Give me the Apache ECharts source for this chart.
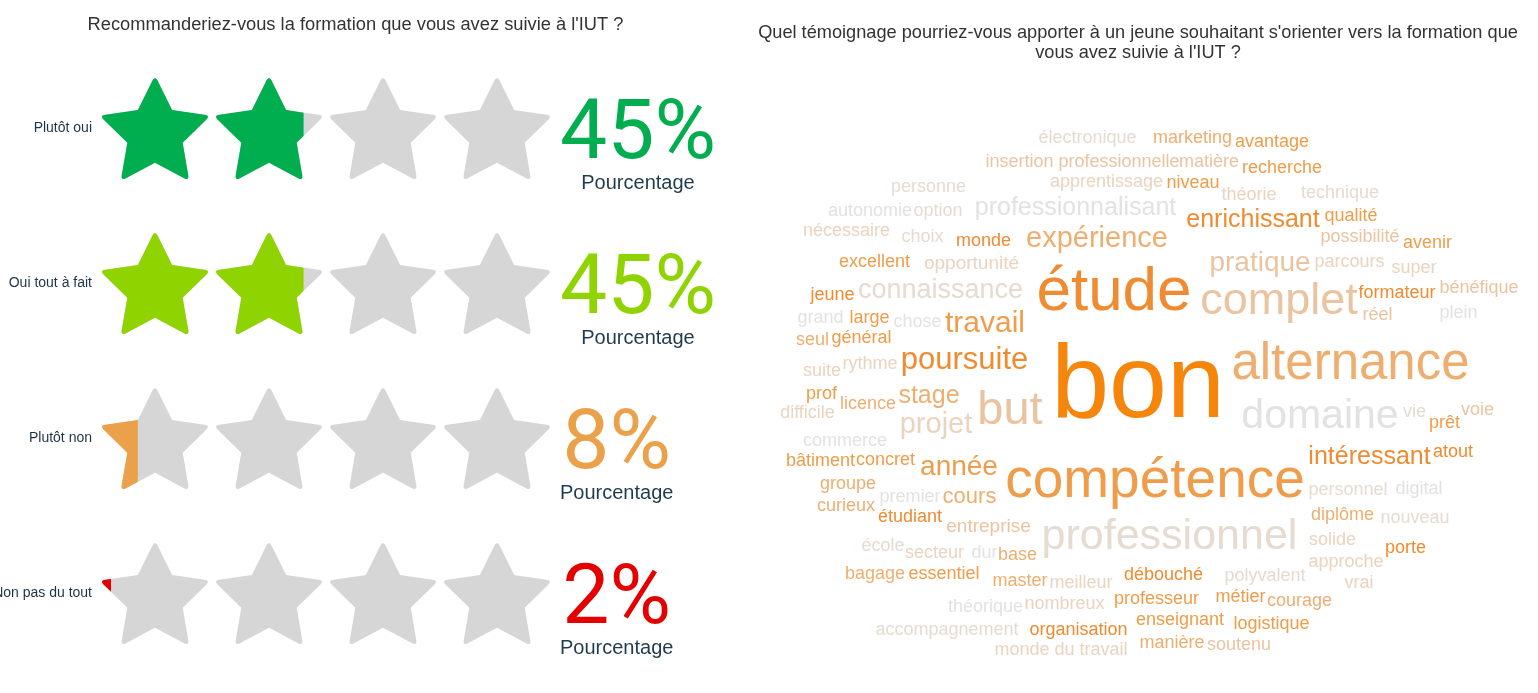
<!DOCTYPE html>
<html><head><meta charset="utf-8">
<script src="https://cdn.jsdelivr.net/npm/echarts@6/dist/echarts.min.js"></script>
<style>html,body{margin:0;padding:0;background:#fff}#c{width:1538px;height:693px}</style>
</head><body><div id="c"></div>
<script>
// ---------- data: rating panel ----------
const ratingTitle = "Recommanderiez-vous la formation que vous avez suivie à l'IUT ?";
const ratingCategories = ['Plutôt oui', 'Oui tout à fait', 'Plutôt non', 'Non pas du tout'];
const ratingPercents = [45, 45, 8, 2];
const ratingMax = 100;
const starsPerRow = 4;
const percentCaption = 'Pourcentage';

// ---------- data: word cloud panel ----------
const cloudTitle = "Quel témoignage pourriez-vous apporter à un jeune souhaitant s'orienter vers la formation que\nvous avez suivie à l'IUT ?";
const cloudWords = ['électronique','marketing','avantage','insertion professionnelle','matière','recherche','personne','apprentissage','niveau','théorie',
'technique','autonomie','option','professionnalisant','enrichissant','qualité','nécessaire','choix','monde','expérience',
'possibilité','avenir','excellent','opportunité','pratique','parcours','super','jeune','connaissance','étude',
'complet','formateur','bénéfique','réel','plein','grand','large','chose','travail','seul',
'général','suite','rythme','poursuite','bon','alternance','prof','licence','stage','difficile',
'but','projet','domaine','vie','prêt','voie','commerce','bâtiment','concret','année',
'compétence','intéressant','atout','groupe','premier','cours','personnel','digital','curieux','étudiant',
'diplôme','nouveau','entreprise','professionnel','solide','porte','école','secteur','dur','base',
'approche','bagage','essentiel','master','meilleur','débouché','polyvalent','vrai','professeur','métier',
'courage','théorique','nombreux','enseignant','logistique','accompagnement','organisation','monde du travail','manière','soutenu'];
const cloudWeights = [1,1,1,1,1,1,1,1,1,1,
1,1,1,8,8,1,1,1,1,12,
1,1,1,2,11,1,1,1,10,45,
28,1,1,1,1,1,1,1,13,1,
1,1,1,14,87,34,1,1,8,1,
30,12,24,1,1,1,1,1,1,11,
38,8,1,1,1,5,1,1,1,1,
1,1,2,26,1,1,1,1,1,1,
1,1,1,1,1,1,1,1,1,1,
1,1,1,1,1,1,1,1,1,1];
// layout of the cloud (word centres, in the panel's own layout units)
const cloudLayoutX = [1087.5,1192.5,1272,1082.5,1209,1282,928.5,1106.5,1193,1249,
1340,870,938,1075.5,1253,1351,846.5,922.5,983.5,1097,
1360,1427.5,874.5,971.5,1260,1349.5,1414,832.5,940.5,1114,
1279,1397,1479,1377.5,1458.5,820.5,869.5,917.5,985,812.5,
861.5,822,870,964.5,1138,1350.5,821.5,868,929,807.5,
1010,936,1320,1414.5,1444.5,1477.5,845,820.5,885.5,959,
1155,1369.5,1453,848,910,969.5,1348,1419,846,910,
1342.5,1415,988.5,1169.5,1332.5,1405.5,883,934.5,984.5,1017.5,
1346,875,944,1020,1081,1163.5,1265,1359,1156.5,1240.5,
1299.5,985.5,1064.5,1180,1271.5,947,1078.5,1061,1172,1239];
const cloudLayoutY = [138,138,142,162,162,168,187,182,183,195,
193,211,211,208,220,216,231,237,241,239,
237,243,262,264,263,262,268,295,291,292.5,
302,293,288,315,313,318,318,322,323.5,340,
338,371,364,360,388,365,394,404,396,413,
411,425,417,412,423,410,441,461,460,467,
481.5,457,452,484,497,497,490,489,506,517,
515,518,527,537.5,540,548,546,553,553,555,
562,574,574,581,583,575,576,583,599,597,
601,607,604,620,624,630,630,650,643,645];
const cloudTones = [6,3,2,4,4,2,6,5,2,5,
6,7,6,7,1,2,5,6,1,3,
4,2,2,5,4,5,5,1,6,1,
4,1,4,4,7,7,2,7,2,3,
2,5,5,1,0,3,2,3,3,5,
4,5,7,6,2,4,7,2,2,2,
2,1,1,3,7,3,6,7,3,1,
3,6,4,6,5,1,6,5,7,3,
5,3,2,3,5,1,6,5,2,2,
3,7,5,2,2,6,1,5,3,4];

// ---------- styles ----------
const rowColors = ['#00AE50', '#8FD400', '#EBA04A', '#E50000'];
const starGray = '#D6D6D6';
const tonePalette = ['#F5860B','#EF8B30','#EF9D4A','#EEAE70','#EAC4A0','#E9D4C0','#E5DBD1','#E2E2E2'];
const FONT = 'Liberation Sans, Arial, sans-serif';

function starPath(inner, round) {
  const pts = [];
  for (let i = 0; i < 10; i++) {
    const r = i % 2 === 0 ? 100 : 100 * inner;
    const a = -Math.PI / 2 + i * Math.PI / 5;
    pts.push([100 + r * Math.cos(a), 100 + r * Math.sin(a)]);
  }
  const f = v => v.toFixed(2);
  let d = '';
  for (let i = 0; i < 10; i += 2) {
    const P = pts[i], Ip = pts[(i + 9) % 10], In = pts[i + 1];
    const A = [P[0] + (Ip[0] - P[0]) * round, P[1] + (Ip[1] - P[1]) * round];
    const B = [P[0] + (In[0] - P[0]) * round, P[1] + (In[1] - P[1]) * round];
    d += (i === 0 ? 'M' : 'L') + f(A[0]) + ' ' + f(A[1]) + 'Q' + f(P[0]) + ' ' + f(P[1]) + ' ' + f(B[0]) + ' ' + f(B[1]) +
         'L' + f(In[0]) + ' ' + f(In[1]);
  }
  return 'path://' + d + 'Z';
}
const STAR = starPath(0.5, 0.15);
const STAR_SIZE = [106, 101];

const wMin = Math.min(...cloudWeights), wMax = Math.max(...cloudWeights);
const SIZE_MIN = 18, SIZE_MAX = 104;
const sizeOf = w => SIZE_MIN + (w - wMin) * (SIZE_MAX - SIZE_MIN) / (wMax - wMin);

const rich = {
  s: { fontSize: 20, fontFamily: FONT, color: '#1f3b4d', lineHeight: 24, align: 'center' }
};
rowColors.forEach((c, i) => {
  rich['p' + i] = { fontSize: 84, fontFamily: 'Roboto, sans-serif', color: c, lineHeight: 70, align: 'center' };
});

const chart = echarts.init(document.getElementById('c'), null, { renderer: 'canvas' });
chart.setOption({
  animation: false,
  backgroundColor: '#ffffff',
  title: [
    { text: ratingTitle, left: 355.5, top: 16, textAlign: 'center', padding: 0,
      textStyle: { fontSize: 18.3, fontWeight: 'normal', color: '#333', fontFamily: FONT } },
    { text: cloudTitle, left: 1138, top: 23, textAlign: 'center', padding: 0,
      textStyle: { fontSize: 18.2, fontWeight: 'normal', color: '#333', fontFamily: FONT, lineHeight: 20 } }
  ],
  grid: [
    { left: 102, top: 51, width: 448, height: 620, outerBoundsMode: 'none', containLabel: false },
    { left: 740, top: 0, width: 798, height: 693, outerBoundsMode: 'none', containLabel: false }
  ],
  xAxis: [
    { gridIndex: 0, type: 'value', min: 0, max: ratingMax, show: false },
    { gridIndex: 1, type: 'value', min: 740, max: 1538, show: false }
  ],
  yAxis: [
    { gridIndex: 0, type: 'category', inverse: true, data: ratingCategories,
      axisLine: { show: false }, axisTick: { show: false }, splitLine: { show: false },
      axisLabel: { margin: 10, fontSize: 14, color: '#1d3447', fontFamily: FONT } },
    { gridIndex: 1, type: 'value', min: 0, max: 693, inverse: true, show: false }
  ],
  series: [
    {
      type: 'pictorialBar', xAxisIndex: 0, yAxisIndex: 0, silent: true, z: 1,
      symbol: STAR, symbolSize: STAR_SIZE, symbolRepeat: starsPerRow, symbolBoundingData: ratingMax,
      itemStyle: { color: starGray },
      data: ratingCategories.map(() => ratingMax),
      label: {
        show: true, position: 'right', distance: 10, offset: [0, 20],
        formatter: p => `{p${p.dataIndex}|${ratingPercents[p.dataIndex]}%}\n{s|${percentCaption}}`,
        rich: rich
      }
    },
    {
      type: 'pictorialBar', xAxisIndex: 0, yAxisIndex: 0, silent: true, z: 2,
      symbol: STAR, symbolSize: STAR_SIZE, symbolRepeat: starsPerRow, symbolBoundingData: ratingMax,
      symbolClip: true,
      data: ratingPercents.map((v, i) => ({ value: v, itemStyle: { color: rowColors[i] } }))
    },
    {
      type: 'scatter', xAxisIndex: 1, yAxisIndex: 1, silent: true, symbolSize: 0,
      itemStyle: { color: 'transparent', opacity: 1 },
      data: cloudWords.map((w, i) => ({
        value: [cloudLayoutX[i], cloudLayoutY[i], cloudWeights[i]],
        label: { fontSize: sizeOf(cloudWeights[i]), color: tonePalette[cloudTones[i]] }
      })),
      label: {
        show: true, position: 'inside', fontFamily: FONT, opacity: 1,
        formatter: p => cloudWords[p.dataIndex]
      }
    }
  ]
});
</script></body></html>
